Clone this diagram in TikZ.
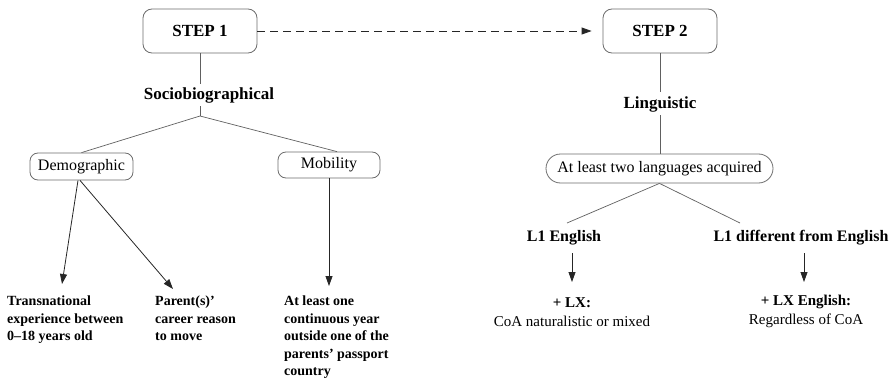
\documentclass[tikz,border=0pt]{standalone}
\usepackage{fontspec}
\setmainfont{Liberation Serif}
\usetikzlibrary{arrows.meta}
\begin{document}
\begin{tikzpicture}[x=1pt,y=-1pt,
  stepbox/.style={draw=gray!85!black, line width=0.8pt, rounded corners=9pt, minimum width=114pt, minimum height=44pt, inner sep=0pt, font=\fontsize{17}{20}\selectfont\bfseries},
  catbox/.style={draw=gray!85!black, line width=0.8pt, rounded corners=8pt, inner sep=0pt, font=\fontsize{16}{19}\selectfont},
  head/.style={inner sep=0pt, font=\fontsize{17}{20}\selectfont\bfseries},
  leaf/.style={inner sep=0pt, align=left, anchor=north west, font=\fontsize{14}{17.4}\selectfont\bfseries},
  res/.style={inner sep=0pt, align=center, font=\fontsize{15}{19}\selectfont},
  line/.style={draw=gray!75!black, line width=0.7pt},
  arr/.style={draw=black!85, line width=0.8pt, -{Triangle[length=10pt,width=7pt]}},
]
\useasboundingbox (0,0) rectangle (892,380);
% top boxes
\node[stepbox] (s1) at (200,31) {STEP 1};
\node[stepbox] (s2) at (660,31) {STEP 2};
\draw[arr, dash pattern=on 8pt off 5pt, shorten >=11pt] (s1) -- (s2);

% left tree
\node[head] (socio) at (209,95) {Sociobiographical};
\coordinate (j1) at (200,116);
\draw[line] (s1.south) -- (200,84);
\draw[line] (200,106) -- (j1);
\node[catbox, minimum width=103pt, minimum height=27pt] (demo) at (81.5,166.5) {Demographic};
\node[catbox, minimum width=102pt, minimum height=26pt] (mob) at (329,165) {Mobility};
\draw[line] (j1) -- (demo.north);
\draw[line] (j1) -- ([xshift=8pt]mob.north);

\coordinate (t1) at (62,284);
\coordinate (t2) at (173,289);
\coordinate (t3) at (329,286);
\draw[arr] ([xshift=-3.5pt]demo.south) -- (t1);
\draw[arr] ([xshift=-1.5pt]demo.south) -- (t2);
\draw[arr] (mob.south) -- (t3);

\node[leaf] (l1) at (7,296) {Transnational\\experience between\\0–18 years old};
\node[leaf] (l2) at (155,296) {Parent(s)’\\career reason\\to move};
\node[leaf] (l3) at (284,296) {At least one\\continuous year\\outside one of the\\parents’ passport\\country};

% right tree
\node[head] (ling) at (660,104) {Linguistic};
\draw[line] (s2.south) -- (660,92);
\draw[line] (660,115) -- (660,154);
\node[catbox, rounded corners=14.5pt, minimum width=227pt, minimum height=29pt] (lang) at (659.5,168.5) {At least two languages acquired};
\coordinate (c1) at (567,223);
\coordinate (c2) at (740,223);
\draw[line] (lang.south) -- (c1);
\draw[line] (lang.south) -- (c2);
\node[head, font=\fontsize{16}{19}\selectfont\bfseries] (l1e) at (564,238) {L1 English};
\node[head, font=\fontsize{16}{19}\selectfont\bfseries] (l1d) at (801,238) {L1 different from English};
\coordinate (e1) at (572,282);
\coordinate (e2) at (804,282);
\draw[arr] (572,253) -- (e1);
\draw[arr] (804,253) -- (e2);
\node[res] (r1) at (572,312) {\textbf{+ LX:}\\CoA naturalistic or mixed};
\node[res] (r2) at (806,311) {\textbf{+ LX English:}\\Regardless of CoA};
\end{tikzpicture}
\end{document}
